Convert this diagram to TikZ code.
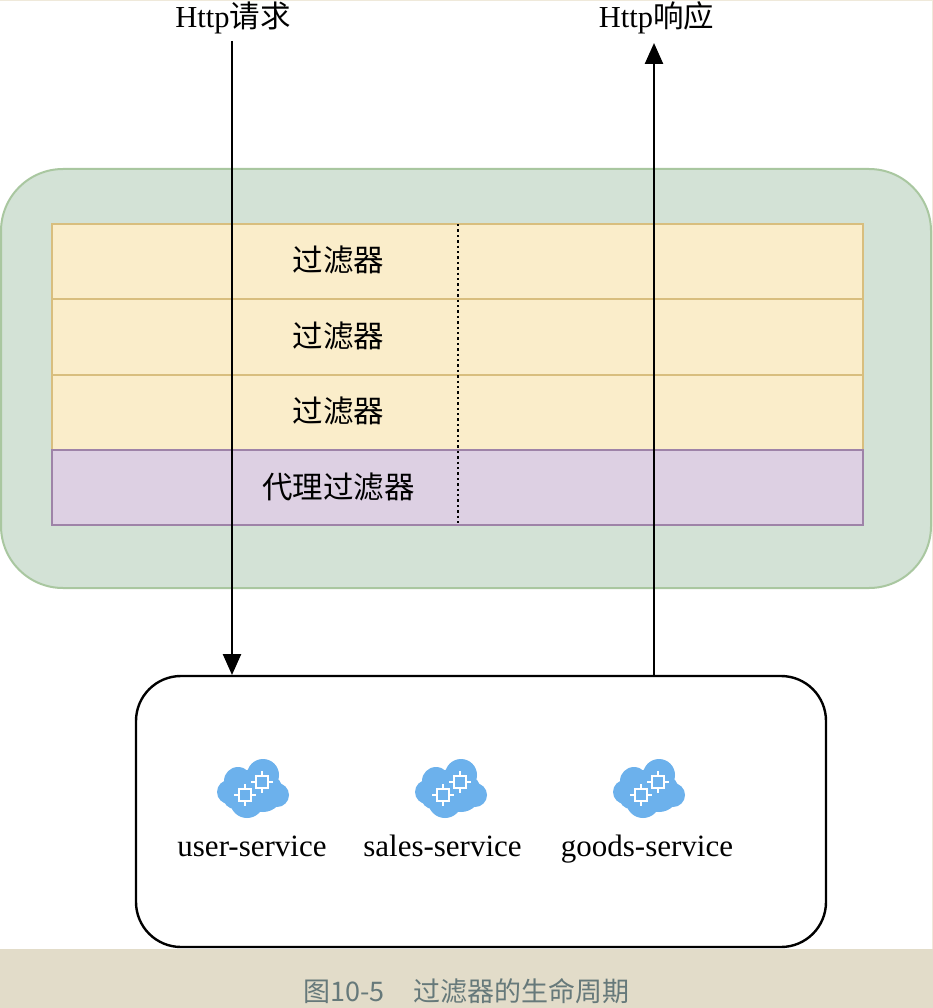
\documentclass[tikz,border=0pt]{standalone}
\usepackage{fontspec}
\setmainfont{Liberation Serif}
\newfontfamily\cjk{Noto Sans CJK SC}
\usetikzlibrary{arrows.meta}
\definecolor{outerfill}{HTML}{D3E2D6}
\definecolor{outerline}{HTML}{A9C7A0}
\definecolor{rowfill}{HTML}{FAEDCA}
\definecolor{rowline}{HTML}{D8BE7E}
\definecolor{proxyfill}{HTML}{DDD0E3}
\definecolor{proxyline}{HTML}{9E83A8}
\definecolor{band}{HTML}{E2DCC9}
\definecolor{edgec}{HTML}{EFE9DA}
\definecolor{captionc}{HTML}{66797A}
\definecolor{cloudc}{HTML}{6CB1EC}
\tikzset{
  x=1pt,y=-1pt,
  rowbox/.style={draw=rowline,fill=rowfill,line width=2pt,outer sep=0pt,minimum width=811pt,minimum height=75.3pt,inner sep=0pt,anchor=north west},
  proxybox/.style={rowbox,draw=proxyline,fill=proxyfill},
  lbl/.style={font=\fontsize{30.5}{34}\selectfont,text=black,inner sep=0pt},
  svc/.style={font=\fontsize{31}{34}\selectfont,text=black,inner sep=0pt,anchor=base},
  flow/.style={draw=black,line width=2.5pt,-{Triangle[length=21pt,width=18pt]}},
  chip/.pic={
    \draw[white,line width=1.6pt] (-11,0)--(11,0) (0,-11)--(0,11);
    \fill[cloudc] (-6.5,-6.5) rectangle (6.5,6.5);
    \draw[white,line width=2.8pt] (-6,-6) rectangle (6,6);
  },
  cloudicon/.pic={
    \fill[cloudc] (0,0) circle (20) (10,3) circle (20) (-24,3) circle (12) (-15,-8) circle (14) (10,-14) circle (16) (24,6) circle (12) (-6,12) circle (17) (14,7) circle (14) (-18,8) circle (12);
    \pic at (-8,6) {chip};
    \pic at (9,-7) {chip};
  }
}
\begin{document}
\begin{tikzpicture}
\useasboundingbox (0,0) rectangle (933,1008);
\fill[white] (0,0) rectangle (933,1008);
\fill[edgec] (0,0) rectangle (933,1.2);
\fill[edgec] (931.5,0) rectangle (933,949);
\fill[band] (0,949) rectangle (933,1008);
\node[draw=outerline,fill=outerfill,line width=2pt,outer sep=0pt,rounded corners=62pt,minimum width=930pt,minimum height=419pt,inner sep=0pt,anchor=north west] (outer) at (1,169) {};
\node[rowbox] (r1) at (52,224) {};
\node[rowbox] (r2) at (52,299.3) {};
\node[rowbox] (r3) at (52,374.6) {};
\node[proxybox,minimum height=75pt] (r4) at (52,450) {};
\node[lbl] (t1) at (338.5,259.5) {\cjk 过滤器};
\node[lbl] (t2) at (338.5,335.5) {\cjk 过滤器};
\node[lbl] (t3) at (338.5,410.5) {\cjk 过滤器};
\node[lbl] (t4) at (338.5,486.5) {\cjk 代理过滤器};
\coordinate (dtop) at (458,224);
\coordinate (dbot) at (458,525);
\draw[black,line width=1.8pt,dash pattern=on 2.4pt off 3pt] (dtop) -- (dbot);
\node[draw=black,fill=white,line width=2.4pt,outer sep=0pt,rounded corners=45pt,minimum width=690pt,minimum height=271pt,inner sep=0pt,anchor=north west] (svcbox) at (136,676) {};
\node[lbl] (req) at (233,18) {Http{\cjk 请求}};
\node[lbl] (resp) at (656.5,18) {Http{\cjk 响应}};
\coordinate (reqs) at (232,41);
\coordinate (reqe) at (232,675);
\coordinate (resps) at (654,675);
\coordinate (respe) at (654,43);
\draw[flow] (reqs) -- (reqe);
\draw[flow] (resps) -- (respe);
\pic at (253,789) {cloudicon};
\pic at (451,789) {cloudicon};
\pic at (649,789) {cloudicon};
\node[svc] (s1) at (252,856) {user-service};
\node[svc] (s2) at (442.5,856) {sales-service};
\node[svc] (s3) at (647,856) {goods-service};
\node[font=\fontsize{27}{30}\selectfont,text=captionc,inner sep=0pt] (cap) at (466.5,991) {\cjk 图10-5\hspace{29pt}过滤器的生命周期};
\end{tikzpicture}
\end{document}
